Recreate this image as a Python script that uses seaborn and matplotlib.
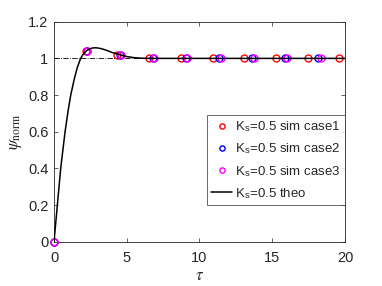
import numpy as np
import pandas as pd
import matplotlib
matplotlib.use('Agg')
import matplotlib.pyplot as plt
import seaborn as sns

# valores
tau_case1 = [0, 2.18, 4.36, 6.54, 8.72, 10.90, 13.08, 15.26, 17.44, 19.62]
psi_case1 = [0, 1.040, 1.020, 1.003, 1.0, 1.0, 1.0, 1.0, 1.0, 1.0]
tau_case2 = [0, 2.27, 4.54, 6.81, 9.08, 11.35, 13.62, 15.89, 18.16]
psi_case2 = [0, 1.042, 1.019, 1.002, 1.0, 1.0, 1.0, 1.0, 1.0]
tau_case3 = [0, 2.29, 4.58, 6.87, 9.16, 11.45, 13.74, 16.03, 18.32]
psi_case3 = [0, 1.042, 1.018, 1.002, 1.0, 1.0, 1.0, 1.0, 1.0]

tau_theo = [0, 0.23, 0.46, 0.76, 1.0, 1.15, 1.4, 1.6, 1.83, 2.0, 2.2, 2.4, 2.6, 2.8, 3.0, 3.25,
            3.5, 3.75, 4.0, 4.5, 5.0, 5.5, 6.0, 7.0, 8.0, 20.0]
psi_theo = [0, 0.2, 0.4, 0.6, 0.73, 0.8, 0.89, 0.95, 1.0, 1.022, 1.04, 1.05, 1.056, 1.058, 1.057, 1.053,
            1.047, 1.04, 1.032, 1.02, 1.01, 1.004, 1.001, 1.0, 1.0, 1.0]

sns.set_style('ticks')
plt.rcParams['font.family'] = ['Liberation Sans', 'DejaVu Sans']
plt.rcParams['mathtext.fontset'] = 'stix'

fig = plt.figure(figsize=(3.82, 2.86), dpi=100)
ax = fig.add_axes([0.1414, 0.155, 0.7616, 0.769])

ax.plot([0, 20], [1, 1], color='black', lw=0.6, ls='-.')

casos = [(tau_case1, psi_case1, 'red', 'case1'),
         (tau_case2, psi_case2, 'blue', 'case2'),
         (tau_case3, psi_case3, 'magenta', 'case3')]
for t, p, cor, nome in casos:
    df = pd.DataFrame({'tau': t, 'psi': p})
    sns.lineplot(data=df, x='tau', y='psi', ax=ax, linestyle='none', marker='o', markersize=5,
                 markerfacecolor='none', markeredgecolor=cor, markeredgewidth=1.0, color=cor,
                 label=r'K$_{\mathregular{s}}$=0.5 sim ' + nome, zorder=3, clip_on=False)

df_theo = pd.DataFrame({'tau': tau_theo, 'psi': psi_theo})
sns.lineplot(data=df_theo, x='tau', y='psi', ax=ax, color='black', lw=1.1,
             label=r'K$_{\mathregular{s}}$=0.5 theo', zorder=4)

ax.set_xlim(0, 20)
ax.set_ylim(0, 1.2)
ax.set_xticks([0, 5, 10, 15, 20])
ax.set_yticks([0, 0.2, 0.4, 0.6, 0.8, 1.0, 1.2])
ax.set_yticklabels(['0', '0.2', '0.4', '0.6', '0.8', '1', '1.2'])
ax.tick_params(direction='in', length=3, width=0.5, labelsize=10.5, top=True, right=True,
               colors='#262626')
ax.tick_params(axis='x', pad=7)
ax.tick_params(axis='y', pad=4)
for s in ax.spines.values():
    s.set_linewidth(0.6)
    s.set_color('#262626')
ax.set_xlabel(r'$\tau$', fontsize=12, labelpad=2)
ax.set_ylabel(r'$\psi_{\rm norm}$', fontsize=12, labelpad=3)

leg = ax.legend(loc='upper right', bbox_to_anchor=(1.0, 0.576), borderaxespad=0, fontsize=9.5,
                frameon=True, fancybox=False, edgecolor='#262626', handlelength=1.6,
                handletextpad=0.2, borderpad=0.35, labelspacing=0.55, markerscale=0.75)
leg.get_frame().set_linewidth(0.6)

plt.savefig('out.png', dpi=100)
